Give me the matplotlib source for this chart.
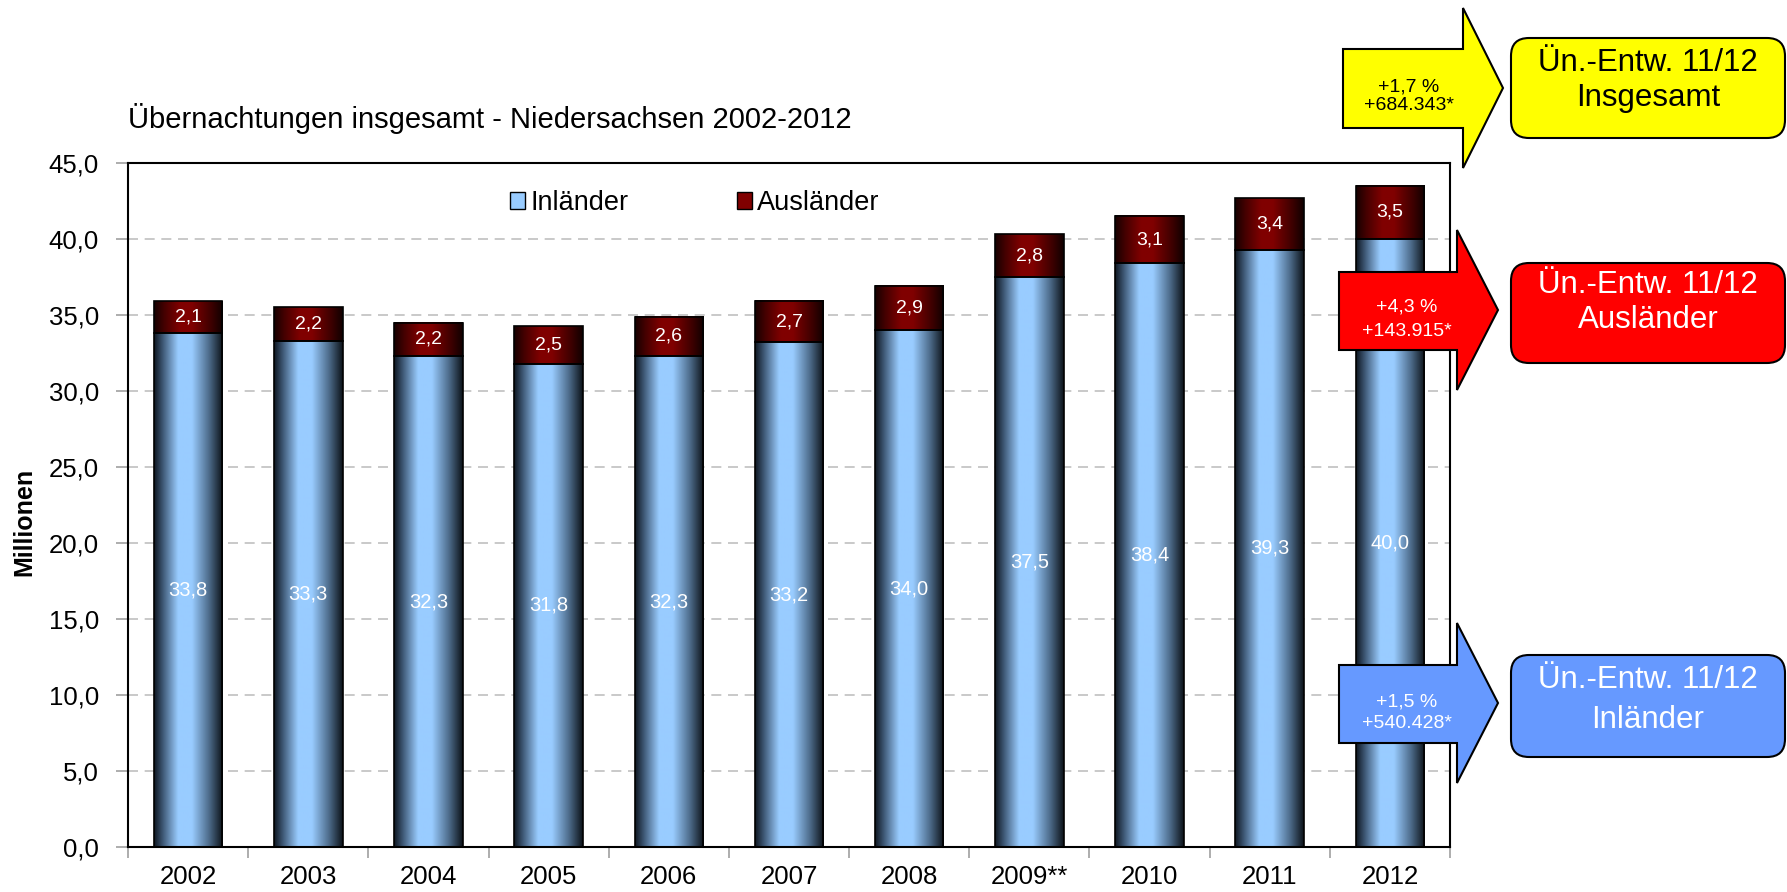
import matplotlib
matplotlib.use('Agg')
import matplotlib.pyplot as plt
import numpy as np
from matplotlib.colors import LinearSegmentedColormap
from matplotlib.patches import Polygon, FancyBboxPatch, Rectangle
from matplotlib.ticker import FuncFormatter, MultipleLocator

plt.rcParams['font.family'] = ['Liberation Sans', 'DejaVu Sans']

jahre = ['2002', '2003', '2004', '2005', '2006', '2007', '2008', '2009**', '2010', '2011', '2012']
inlaender = [33.8, 33.3, 32.3, 31.8, 32.3, 33.2, 34.0, 37.5, 38.4, 39.3, 40.0]
auslaender = [2.1, 2.2, 2.2, 2.5, 2.6, 2.7, 2.9, 2.8, 3.1, 3.4, 3.5]

titel = 'Übernachtungen insgesamt - Niedersachsen 2002-2012'
box_titel = 'Ün.-Entw. 11/12'
# (Label, Prozent, absolut, Farbe, Textfarbe)
entwicklung = [
    ('Insgesamt', '+1,7 %', '+684.343*', '#ffff00', 'black'),
    ('Ausländer', '+4,3 %', '+143.915*', '#ff0000', 'white'),
    ('Inländer', '+1,5 %', '+540.428*', '#6699ff', 'white'),
]

W, H = 1787, 892
fig = plt.figure(figsize=(W / 100, H / 100), dpi=100)
ax = fig.add_axes([128 / W, 1 - 847 / H, 1322 / W, 684 / H])

x = np.arange(len(jahre))
bw = 0.57
b1 = ax.bar(x, inlaender, width=bw, facecolor='none', edgecolor='black', linewidth=1.2, zorder=3)
b2 = ax.bar(x, auslaender, bottom=inlaender, width=bw, facecolor='none', edgecolor='black',
            linewidth=1.2, zorder=3)

cmap_blau = LinearSegmentedColormap.from_list('blau', [
    (0.0, '#0e1620'), (0.12, '#3b5470'), (0.35, '#99ccff'), (0.55, '#99ccff'),
    (0.8, '#4d6b8a'), (1.0, '#0c1218')])
cmap_rot = LinearSegmentedColormap.from_list('rot', [
    (0.0, '#150000'), (0.15, '#450000'), (0.38, '#800000'), (0.55, '#800000'),
    (0.82, '#400000'), (1.0, '#100000')])
grad = np.linspace(0, 1, 256).reshape(1, -1)

for bars, cmap in ((b1, cmap_blau), (b2, cmap_rot)):
    for bar in bars:
        x0, y0 = bar.get_x(), bar.get_y()
        ax.imshow(grad, cmap=cmap, extent=[x0, x0 + bar.get_width(), y0, y0 + bar.get_height()],
                  aspect='auto', interpolation='bilinear', zorder=2)

for xi, vi, va in zip(x, inlaender, auslaender):
    ax.text(xi, vi / 2, f'{vi:.1f}'.replace('.', ','), ha='center', va='center',
            color='white', fontsize=14.5, zorder=5)
    ax.text(xi, vi + va / 2, f'{va:.1f}'.replace('.', ','), ha='center', va='center',
            color='white', fontsize=14, zorder=5)

ax.set_xlim(-0.5, len(jahre) - 0.5)
ax.set_ylim(0, 45)
ax.yaxis.set_major_locator(MultipleLocator(5))
ax.yaxis.set_major_formatter(FuncFormatter(lambda v, p: f'{v:.1f}'.replace('.', ',')))
ax.yaxis.grid(True, linestyle=(0, (6, 4)), color='#c0c0c0', linewidth=1.2)
ax.set_axisbelow(True)

ax.set_xticks(x)
ax.set_xticklabels(jahre)
ax.set_xticks(np.arange(-0.5, len(jahre)), minor=True)
ax.tick_params(axis='x', which='major', length=0, labelsize=18.5, pad=13)
ax.tick_params(axis='x', which='minor', length=8, color='#a0a0a0', width=1.2)
ax.tick_params(axis='y', length=9, color='#a0a0a0', width=1.2, labelsize=18.5, pad=12)
for s in ax.spines.values():
    s.set_linewidth(1.5)
    s.set_color('black')

handles = [Rectangle((0, 0), 1, 1, facecolor='#99ccff', edgecolor='black'),
           Rectangle((0, 0), 1, 1, facecolor='#800000', edgecolor='black')]
ax.legend(handles, ['Inländer', 'Ausländer'], loc='center', bbox_to_anchor=(0.429, 0.9415),
          ncol=2, frameon=False, fontsize=19.5, handlelength=0.55, handleheight=0.55,
          handletextpad=0.2, columnspacing=4.0)

fig.text(128 / W, 1 - 119 / H, titel, fontsize=21, ha='left', va='center')
fig.text(24 / W, 1 - 522 / H, 'Millionen', rotation=90, fontweight='bold', fontsize=18,
         ha='center', va='center')

# Pfeile und Kästen rechts (Pixelkoordinaten)
ov = fig.add_axes([0, 0, 1, 1], zorder=10)
ov.set_xlim(0, W)
ov.set_ylim(H, 0)
ov.axis('off')

pfeile = [
    (1343, 1463, 1503, 49, 128, 8, 168, 88, 87, 105, 38, 138, 63, 98, 1409),
    (1339, 1457, 1498, 272, 350, 230, 390, 310, 307, 331, 263, 363, 285, 320, 1407),
    (1339, 1457, 1498, 665, 743, 623, 783, 703, 702, 724, 655, 757, 680, 720, 1407),
]
for (name, proz, absn, farbe, tfarbe), p in zip(entwicklung, pfeile):
    x0, x1, x2, yb0, yb1, yh0, yh1, ytip, yt1, yt2, bx0, bx1, by1, by2, tx = p
    pts = [(x0, yb0), (x1, yb0), (x1, yh0), (x2, ytip), (x1, yh1), (x1, yb1), (x0, yb1)]
    ov.add_patch(Polygon(pts, closed=True, facecolor=farbe, edgecolor='black', linewidth=1.5))
    ov.text(tx, yt1, proz, ha='center', va='center', fontsize=14, color=tfarbe)
    ov.text(tx, yt2, absn, ha='center', va='center', fontsize=14, color=tfarbe)
    ov.add_patch(FancyBboxPatch((1511, bx0), 274, bx1 - bx0,
                                boxstyle='round,pad=0,rounding_size=18',
                                facecolor=farbe, edgecolor='black', linewidth=1.5))
    ov.text(1648, by1, box_titel, ha='center', va='center', fontsize=22.5, color=tfarbe)
    ov.text(1648, by2, name, ha='center', va='center', fontsize=22.5, color=tfarbe)

fig.savefig('out.png', dpi=100)
